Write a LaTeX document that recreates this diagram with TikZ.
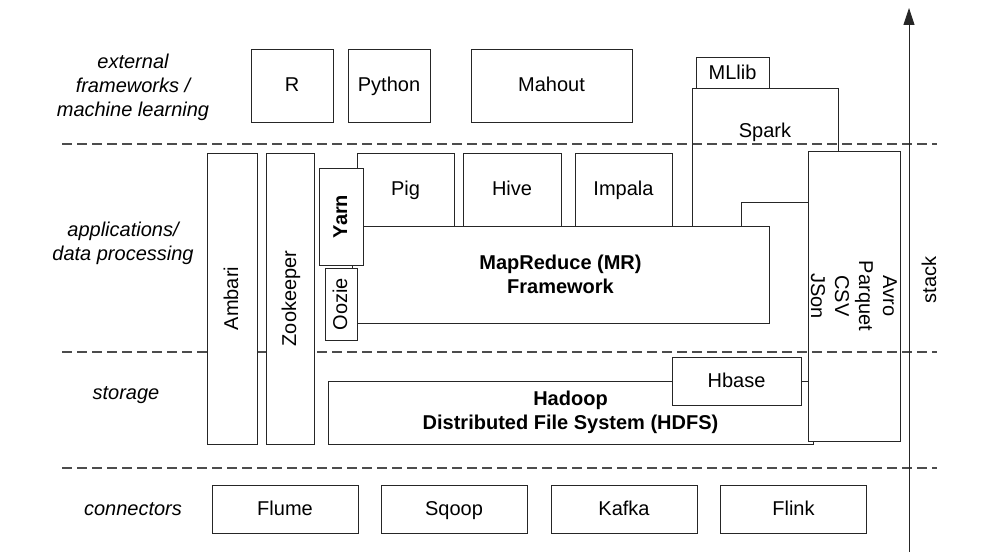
\documentclass[tikz,border=0pt]{standalone}
\usepackage{fontspec}
\setmainfont{Liberation Sans}
\usetikzlibrary{arrows.meta}
\tikzset{
  panel/.style={draw=black!85, fill=white, line width=0.9pt, inner sep=0pt, align=center},
  block/.style={panel, text height=14pt, text depth=1.6pt},
  layer/.style={font=\fontsize{20}{24}\selectfont\itshape, align=center},
  divider/.style={draw=black!70, line width=1.4pt, dash pattern=on 10pt off 5pt},
  link/.style={draw=black!85, line width=0.9pt}
}
\begin{document}
\begin{tikzpicture}[x=1pt, y=-1pt, font=\fontsize{20}{24}\selectfont]
        \useasboundingbox (0,0) rectangle (1000,559);
        % coordinates for the layer dividers
        \coordinate (upperwest)   at ( 62, 144);
        \coordinate (uppereast)   at (937, 144);
        \coordinate (middlewest)  at ( 62, 352);
        \coordinate (middleeast)  at (937, 352);
        \coordinate (lowerwest)   at ( 62, 468);
        \coordinate (lowereast)   at (937, 468);
        % coordinates for the spark outline and the stack arrow
        \coordinate (sparkbottomleft)   at (692, 226);
        \coordinate (sparktopleft)      at (692, 88.5);
        \coordinate (sparktopright)     at (838, 88.5);
        \coordinate (sparkbottomright)  at (838, 151);
        \coordinate (mrlinkbottom)      at (741, 226);
        \coordinate (mrlinktop)         at (741, 202);
        \coordinate (stackbottom)       at (909, 552);
        \coordinate (stacktop)          at (909, 8);
        % storage and file formats
        \node[panel, minimum width=485pt, minimum height=63pt] (hdfs) at (570.5, 412.5) {\bfseries Hadoop\\\bfseries Distributed File System (HDFS)};
        \node[block, minimum width=129pt, minimum height=48pt] (hbase) at (736.5, 381) {Hbase};
        \node[panel, rotate=-90, minimum width=290pt, minimum height=92pt] (formats) at (854, 296) {Avro\\Parquet\\CSV\\JSon};
        % drawing the layer dividers
        \draw[divider] (upperwest)  -- (uppereast);
        \draw[divider] (middlewest) -- (middleeast);
        \draw[divider] (lowerwest)  -- (lowereast);
        % layer labels
        \node[layer] (externallabel) at (133, 87)  {external\\frameworks /\\machine learning};
        \node[layer] (appslabel)     at (123, 243) {applications/\\data processing};
        \node[layer] (storagelabel)  at (126, 395) {storage};
        \node[layer] (connlabel)     at (133, 509) {connectors};
        % external frameworks
        \node[block, minimum width=82pt,  minimum height=73pt] (r)      at (292, 85.5)   {R};
        \node[block, minimum width=82pt,  minimum height=73pt] (python) at (389, 85.5)   {Python};
        \node[block, minimum width=161pt, minimum height=73pt] (mahout) at (551.5, 85.5) {Mahout};
        % spark outline
        \draw[link] (sparkbottomleft) -- (sparktopleft) -- (sparktopright) -- (sparkbottomright);
        \draw[link] (mrlinkbottom) |- (formats.south |- mrlinktop);
        \node[block, minimum width=73pt, minimum height=31pt] (mllib) at (732.5, 73) {MLlib};
        \node[text height=14pt, text depth=1.6pt] (sparklabel) at (765, 131) {Spark};
        % applications
        \node[block, rotate=90, minimum width=291pt, minimum height=50pt] (ambari)    at (232, 298.5) {Ambari};
        \node[block, rotate=90, minimum width=291pt, minimum height=48pt] (zookeeper) at (290, 298.5) {Zookeeper};
        \node[block, minimum width=97pt, minimum height=73pt] (pig)    at (405.5, 189.5) {Pig};
        \node[block, minimum width=98pt, minimum height=73pt] (hive)   at (512, 189.5)   {Hive};
        \node[block, minimum width=97pt, minimum height=73pt] (impala) at (623.5, 189.5) {Impala};
        \node[panel, minimum width=417pt, minimum height=97pt] (mapreduce) at (560.5, 274.5) {\bfseries MapReduce (MR)\\\bfseries Framework};
        \node[block, rotate=90, minimum width=97pt, minimum height=44pt] (yarn)  at (341, 216.5) {\bfseries Yarn};
        \node[block, rotate=90, minimum width=72pt, minimum height=32pt] (oozie) at (341, 304)   {Oozie};
        % connectors
        \node[block, minimum width=146pt, minimum height=48pt] (flume) at (285, 509)   {Flume};
        \node[block, minimum width=146pt, minimum height=48pt] (sqoop) at (454, 509)   {Sqoop};
        \node[block, minimum width=146pt, minimum height=48pt] (kafka) at (624, 509)   {Kafka};
        \node[block, minimum width=146pt, minimum height=48pt] (flink) at (793.5, 509) {Flink};
        % stack arrow
        \draw[link, -{Triangle[length=17pt, width=11pt]}] (stackbottom) -- (stacktop);
        \node[rotate=90, text height=14pt, text depth=1.6pt] (stacklabel) at (930, 280) {stack};
      \end{tikzpicture}
\end{document}
